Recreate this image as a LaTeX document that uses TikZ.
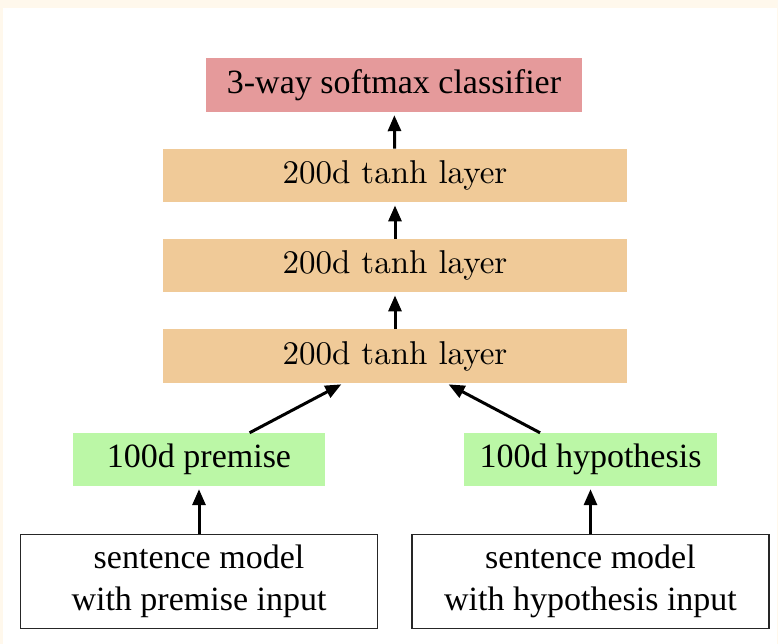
\documentclass[tikz,border=0pt]{standalone}
\usepackage[no-math]{fontspec}
\setmainfont{Liberation Serif}
\newfontfamily\lmten{lmroman10-regular}[Extension=.otf]
\usetikzlibrary{arrows.meta}
\definecolor{bgcream}{HTML}{FFF8EC}
\definecolor{softred}{HTML}{E59A9B}
\definecolor{tanhorange}{HTML}{F0CA98}
\definecolor{vecgreen}{HTML}{BBF7A6}
\begin{document}
\begin{tikzpicture}[x=1pt,y=1pt,
  box/.style={rectangle, inner sep=0pt, align=center, font=\fontsize{34}{42}\selectfont},
  softbox/.style={box, fill=softred, minimum width=376pt, minimum height=54pt},
  tanhbox/.style={box, fill=tanhorange, minimum width=464pt, minimum height=53.5pt, font=\lmten\fontsize{33}{40}\selectfont},
  vecbox/.style={box, fill=vecgreen, minimum width=252.5pt, minimum height=53pt},
  sentbox/.style={box, draw=black!85, line width=1.6pt, fill=white, minimum width=357pt, minimum height=94pt},
  flow/.style={line width=3pt, -{Triangle[length=16pt,width=13pt]}, shorten >=3pt}
]
\useasboundingbox (0,0) rectangle (778,644);
\fill[bgcream] (0,0) rectangle (778,644);
\fill[white] (3,0) rectangle (777,636);

\node[softbox] (soft) at (394,559) {3-way softmax classifier};
\node[tanhbox] (t1) at (395,468.5) {200d tanh layer};
\node[tanhbox] (t2) at (395,378.5) {200d tanh layer};
\node[tanhbox] (t3) at (395,288) {200d tanh layer};
\node[vecbox] (prem) at (199,184.5) {100d premise};
\node[vecbox] (hyp) at (590.5,184.5) {100d hypothesis};
\node[sentbox] (s1) at (199,62.5) {sentence model\\with premise input};
\node[sentbox] (s2) at (590.5,62.5) {sentence model\\with hypothesis input};

\draw[flow] (t1) -- (soft);
\draw[flow] (t2) -- (t1);
\draw[flow] (t3) -- (t2);
\draw[flow] (prem) -- (t3);
\draw[flow] (hyp) -- (t3);
\draw[flow] (s1) -- (prem);
\draw[flow] (s2) -- (hyp);
\end{tikzpicture}
\end{document}
